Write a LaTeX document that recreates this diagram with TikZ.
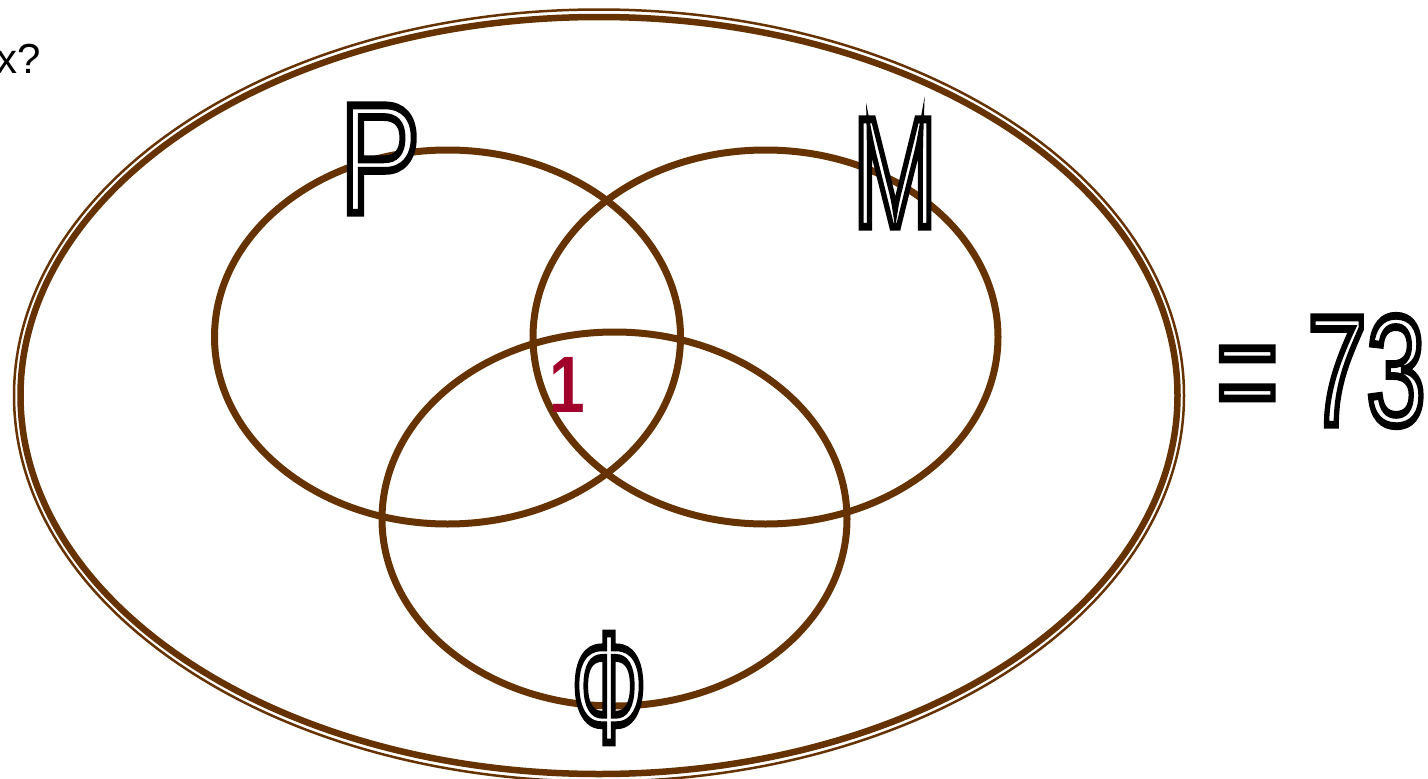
\documentclass[tikz,border=0pt]{standalone}
\usepackage{fontspec}
\setmainfont{Liberation Sans}
\newfontface\strokeface{Liberation Sans}[FakeBold=5]
\definecolor{setbrown}{RGB}{102,51,0}
\definecolor{onered}{RGB}{160,0,42}
% hollow letters: white fill, black outline
\newcommand{\hollowtxt}[2]{\scalebox{#1}[1]{\special{pdf:code 1 g 0 G}\strokeface #2\special{pdf:code 0 g 0 G}}}

\begin{document}
\begin{tikzpicture}[x=1pt,y=-1pt,set/.style={draw=setbrown,line width=7pt},
        letter/.style={inner sep=0pt,font=\fontsize{156}{160}\selectfont}]
        \useasboundingbox (0,0) rectangle (1428,779);
        \draw[setbrown,line width=2.5pt] (599,395.5) ellipse (585 and 386);
        \draw[setbrown,line width=6.5pt] (599,395.5) ellipse (578.5 and 378.5);
        \draw[set] (447.5,337) ellipse (233 and 187);
        \draw[set] (765.5,337) ellipse (232.5 and 187);
        \draw[set] (614.5,519) ellipse (232.5 and 187);
        \node[letter] (P) at (380,159) {\hollowtxt{0.77}{P}};
        \node[letter] (M) at (895,173) {\hollowtxt{0.65}{M}};
        \node[letter] (phi) at (609,688) {\hollowtxt{0.6}{Φ}};
        \node[letter] (total) at (1321,371) {\hollowtxt{0.68}{= 73}};
        \node[inner sep=0pt,text=onered,font=\fontsize{80}{84}\selectfont\bfseries] (one) at (567,385) {\scalebox{0.8}[1]{1}};
        \node[inner sep=0pt,anchor=base west,font=\fontsize{42}{46}\selectfont] (q) at (-4,73) {x?};
    \end{tikzpicture}
\end{document}
